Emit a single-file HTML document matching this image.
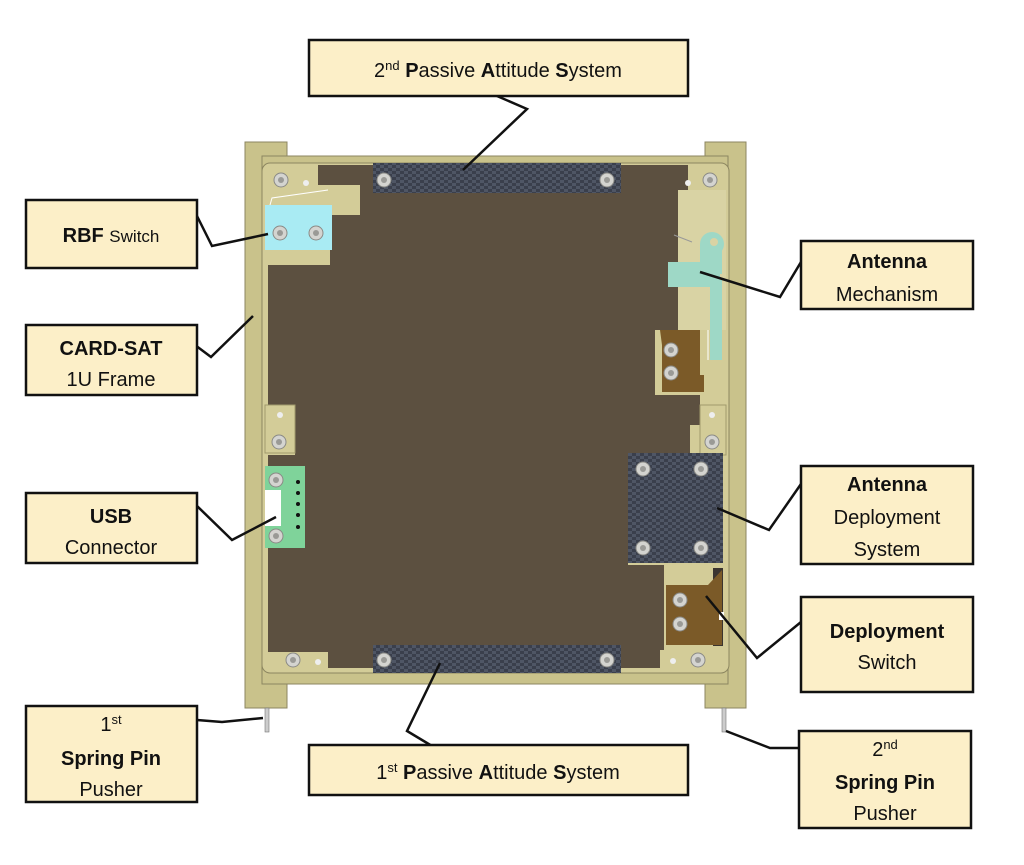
<!DOCTYPE html>
<html><head><meta charset="utf-8"><style>
html,body{margin:0;padding:0;background:#fff;}
svg{display:block}
text{font-family:"Liberation Sans",sans-serif;font-size:20px;fill:#111;text-anchor:middle}
.b{font-weight:bold}
</style></head><body>
<svg width="1024" height="865" viewBox="0 0 1024 865" xmlns="http://www.w3.org/2000/svg">
<defs>
<pattern id="cf" width="8" height="6" patternUnits="userSpaceOnUse">
<rect width="8" height="6" fill="#3a3f4c"/>
<rect x="0" y="0" width="4" height="3" fill="#4f5665"/>
<rect x="4" y="3" width="4" height="3" fill="#4f5665"/>
</pattern>
<g id="scr"><circle r="7" fill="#d4d4d0" stroke="#8a8a86" stroke-width="1"/><circle r="3" fill="#9a9a96"/></g>
</defs>
<rect x="245" y="142" width="42" height="566" fill="#c9c28b" stroke="#8c8660"/>
<rect x="705" y="142" width="41" height="566" fill="#c9c28b" stroke="#8c8660"/>
<rect x="262" y="156" width="466" height="528" fill="#c9c28b" stroke="#8c8660"/>
<rect x="262" y="163" width="467" height="510" rx="8" fill="#d3cc98" stroke="#8c8660"/>
<path d="M318,165 H688 V330 H655 V395 H700 V425 H690 V455 H628 V565 H664 V650 H660 V668 H328 V652 H268 V548 H305 V466 H268 V455 H295 V408 H268 V265 H330 V215 H360 V185 H318 Z" fill="#5c5040"/>
<rect x="373" y="163" width="248" height="30" fill="url(#cf)"/>
<rect x="373" y="645" width="248" height="28" fill="url(#cf)"/>
<use href="#scr" x="384" y="180"/><use href="#scr" x="607" y="180"/>
<use href="#scr" x="384" y="660"/><use href="#scr" x="607" y="660"/>
<use href="#scr" x="281" y="180"/><circle cx="306" cy="183" r="3" fill="#eee"/>
<use href="#scr" x="710" y="180"/><circle cx="688" cy="183" r="3" fill="#eee"/>
<use href="#scr" x="293" y="660"/><circle cx="318" cy="662" r="3" fill="#eee"/>
<use href="#scr" x="698" y="660"/><circle cx="673" cy="661" r="3" fill="#eee"/>
<rect x="265" y="205" width="67" height="45" fill="#a9ebf3"/>
<use href="#scr" x="280" y="233"/><use href="#scr" x="316" y="233"/>
<path d="M270,205 L272,198 L328,190" stroke="#fff" fill="none"/>
<rect x="265" y="405" width="30" height="48" fill="#d3cc98" stroke="#a09a6c"/>
<circle cx="280" cy="415" r="3" fill="#eee"/><use href="#scr" x="279" y="442"/>
<rect x="700" y="405" width="26" height="50" fill="#d3cc98" stroke="#a09a6c"/>
<circle cx="712" cy="415" r="3" fill="#eee"/><use href="#scr" x="712" y="442"/>
<rect x="678" y="190" width="48" height="140" fill="#d9d3a4"/>
<circle cx="712" cy="244" r="12" fill="#9ed8c6"/>
<rect x="668" y="262" width="52" height="25" fill="#9ed8c6"/>
<rect x="700" y="244" width="22" height="30" fill="#9ed8c6"/>
<rect x="710" y="280" width="12" height="80" fill="#9ed8c6"/>
<circle cx="714" cy="242" r="4" fill="#d9d3a4"/>
<line x1="674" y1="235" x2="692" y2="242" stroke="#999"/>
<path d="M660,330 H700 V375 H704 V392 H662 V345 Z" fill="#7b5a28"/>
<use href="#scr" x="671" y="350"/><use href="#scr" x="671" y="373"/>
<line x1="708" y1="330" x2="708" y2="360" stroke="#fff"/>
<rect x="628" y="453" width="95" height="110" fill="url(#cf)"/>
<use href="#scr" x="643" y="469"/><use href="#scr" x="701" y="469"/>
<use href="#scr" x="643" y="548"/><use href="#scr" x="701" y="548"/>
<rect x="713" y="568" width="10" height="78" fill="#3b3530"/>
<path d="M666,585 H708 L722,570 V645 H666 Z" fill="#7b5a28"/>
<use href="#scr" x="680" y="600"/><use href="#scr" x="680" y="624"/>
<rect x="719" y="612" width="5" height="8" fill="#fff"/>
<rect x="265" y="466" width="40" height="82" fill="#7fd39a"/>
<rect x="265" y="490" width="16" height="36" fill="#fff"/>
<use href="#scr" x="276" y="480"/><use href="#scr" x="276" y="536"/>
<g fill="#111"><circle cx="298" cy="482" r="2"/><circle cx="298" cy="493" r="2"/><circle cx="298" cy="504" r="2"/><circle cx="298" cy="515" r="2"/><circle cx="298" cy="527" r="2"/></g>
<rect x="265" y="708" width="4" height="24" fill="#ccc" stroke="#777" stroke-width="0.6"/>
<rect x="722" y="708" width="4" height="24" fill="#ccc" stroke="#777" stroke-width="0.6"/>
<g stroke="#111" stroke-width="2.5" fill="none">
<polyline points="497,96 527,109 463,170"/>
<polyline points="197,216 212,246 268,234"/>
<polyline points="191,342 211,357 253,316"/>
<polyline points="196,505 232,540 276,517"/>
<polyline points="197,720 222,722 263,718"/>
<polyline points="440,663 407,731 432,746"/>
<polyline points="700,272 780,297 801,262"/>
<polyline points="717,508 769,530 801,484"/>
<polyline points="706,596 757,658 801,622"/>
<polyline points="726,731 770,748 799,748"/>
</g>
<g fill="#fcefc8" stroke="#111" stroke-width="2.5">
<rect x="309" y="40" width="379" height="56"/>
<rect x="26" y="200" width="171" height="68"/>
<rect x="26" y="325" width="171" height="70"/>
<rect x="26" y="493" width="171" height="70"/>
<rect x="26" y="706" width="171" height="96"/>
<rect x="309" y="745" width="379" height="50"/>
<rect x="801" y="241" width="172" height="68"/>
<rect x="801" y="466" width="172" height="98"/>
<rect x="801" y="597" width="172" height="95"/>
<rect x="799" y="731" width="172" height="97"/>
</g>
<text x="498" y="77">2<tspan font-size="13" dy="-7">nd</tspan><tspan dy="7"> </tspan><tspan class="b">P</tspan>assive <tspan class="b">A</tspan>ttitude <tspan class="b">S</tspan>ystem</text>
<text x="111" y="242"><tspan class="b">RBF</tspan> <tspan font-size="17">Switch</tspan></text>
<text x="111" y="355" class="b">CARD-SAT</text>
<text x="111" y="386">1U Frame</text>
<text x="111" y="523" class="b">USB</text>
<text x="111" y="554">Connector</text>
<text x="111" y="731">1<tspan font-size="13" dy="-7">st</tspan></text>
<text x="111" y="765" class="b">Spring Pin</text>
<text x="111" y="796">Pusher</text>
<text x="498" y="779">1<tspan font-size="13" dy="-7">st</tspan><tspan dy="7"> </tspan><tspan class="b">P</tspan>assive <tspan class="b">A</tspan>ttitude <tspan class="b">S</tspan>ystem</text>
<text x="887" y="268" class="b">Antenna</text>
<text x="887" y="301">Mechanism</text>
<text x="887" y="491" class="b">Antenna</text>
<text x="887" y="524">Deployment</text>
<text x="887" y="556">System</text>
<text x="887" y="638" class="b">Deployment</text>
<text x="887" y="669">Switch</text>
<text x="885" y="756">2<tspan font-size="13" dy="-7">nd</tspan></text>
<text x="885" y="789" class="b">Spring Pin</text>
<text x="885" y="820">Pusher</text>
</svg>
</body></html>
